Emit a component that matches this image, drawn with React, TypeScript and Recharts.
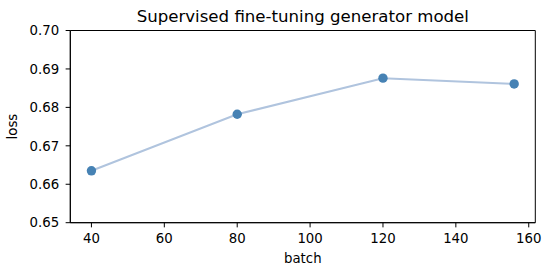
import { LineChart, Line, XAxis, YAxis, Label, ReferenceArea } from "recharts";

const batches = [40, 80, 120, 156];
const losses = [0.6635, 0.6782, 0.6876, 0.6861];
const xTicks = [40, 60, 80, 100, 120, 140, 160];
const yTicks = [0.65, 0.66, 0.67, 0.68, 0.69, 0.7];
const xDomain = [34.2, 161.8];
const yDomain = [0.65, 0.7];

const data = batches.map((b, i) => ({ batch: b, loss: losses[i] }));

const font = "'DejaVu Sans', sans-serif";
const tickStyle = { fontSize: 13.3, fill: "#000", fontFamily: font };

export default function App() {
  return (
    <div style={{ position: "absolute", left: 0, top: 0, width: 552, height: 276, background: "#fff" }}>
      <div
        style={{
          position: "absolute",
          left: 70.3,
          width: 465,
          top: 7,
          textAlign: "center",
          fontFamily: font,
          fontSize: 16.6,
          lineHeight: "normal",
          color: "#000",
        }}
      >
        Supervised fine-tuning generator model
      </div>
      <LineChart
        width={552}
        height={276}
        data={data}
        margin={{ top: 30.5, right: 16.7, bottom: 0, left: 0 }}
      >
        <XAxis
          dataKey="batch"
          type="number"
          domain={xDomain}
          ticks={xTicks}
          allowDataOverflow
          tick={tickStyle}
          tickSize={4.67}
          tickMargin={6.5}
          height={53.3}
          axisLine={{ stroke: "#000", strokeWidth: 1 }}
          tickLine={{ stroke: "#000" }}
        >
          <Label value="batch" position="insideBottom" offset={12.7} style={tickStyle} />
        </XAxis>
        <YAxis
          type="number"
          domain={yDomain}
          ticks={yTicks}
          allowDataOverflow
          tickFormatter={(v: number) => v.toFixed(2)}
          tick={tickStyle}
          tickSize={4.67}
          tickMargin={6.5}
          width={70.3}
          axisLine={{ stroke: "#000", strokeWidth: 1 }}
          tickLine={{ stroke: "#000" }}
        >
          <Label value="loss" angle={-90} position="insideLeft" offset={12.6} style={{ ...tickStyle, textAnchor: "middle" }} />
        </YAxis>
        <ReferenceArea
          x1={xDomain[0]}
          x2={xDomain[1]}
          y1={yDomain[0]}
          y2={yDomain[1]}
          fill="none"
          fillOpacity={0}
          stroke="#000"
          strokeWidth={1}
          ifOverflow="visible"
        />
        <Line
          dataKey="loss"
          stroke="#B0C4DE"
          strokeWidth={2}
          dot={{ r: 4.7, fill: "#4682B4", stroke: "#4682B4", strokeWidth: 0 }}
          activeDot={false}
          isAnimationActive={false}
        />
      </LineChart>
    </div>
  );
}
